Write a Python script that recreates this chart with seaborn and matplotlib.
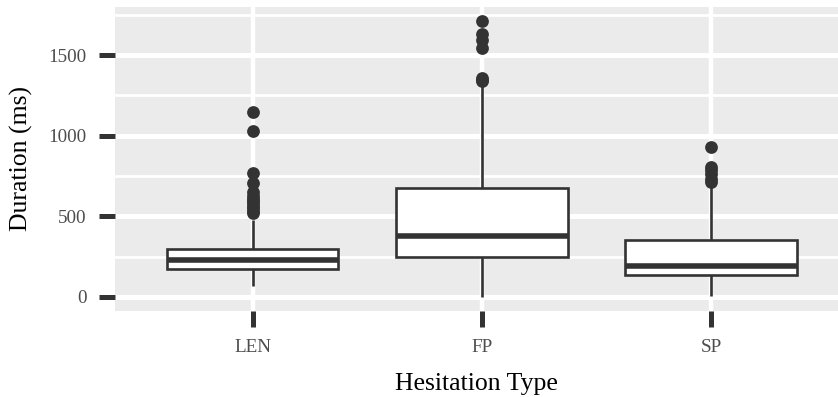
import matplotlib
matplotlib.use("Agg")
import matplotlib.pyplot as plt
import seaborn as sns
import pandas as pd

categories = ["LEN", "FP", "SP"]
whisker_low = [68, 0, 8]
q1 = [175, 246, 136]
median = [227, 380, 192]
q3 = [296, 673, 353]
whisker_high = [478, 1310, 680]
outliers_len = [520, 535, 550, 565, 580, 595, 610, 625, 650, 705, 770, 1029, 1148]
outliers_fp = [1340, 1348, 1356, 1541, 1593, 1628, 1713]
outliers_sp = [715, 730, 760, 790, 805, 927]
y_ticks = [0, 500, 1000, 1500]
y_minor = [250, 750, 1250, 1750]

rows = []
for i, c in enumerate(categories):
    for v in (whisker_low[i], q1[i], median[i], q3[i], whisker_high[i]):
        rows.append({"type": c, "dur": v})
box_df = pd.DataFrame(rows)
out_df = pd.DataFrame(
    [{"type": "LEN", "dur": v} for v in outliers_len]
    + [{"type": "FP", "dur": v} for v in outliers_fp]
    + [{"type": "SP", "dur": v} for v in outliers_sp]
)

sns.set_style("white")
plt.rcParams["font.family"] = ["Liberation Serif", "DejaVu Serif"]

fig = plt.figure(figsize=(8.38, 3.97), dpi=100)
ax = fig.add_axes([115 / 838, 1 - 310.7 / 397, 1 - 115 / 838, (310.7 - 7.3) / 397])
ax.set_facecolor("#EBEBEB")

dark = "#333333"
sns.boxplot(data=box_df, x="type", y="dur", order=categories, whis=(0, 100),
            width=0.75, color="white", linecolor=dark, linewidth=1.9,
            showcaps=False, fliersize=0, ax=ax,
            medianprops={"linewidth": 4.0, "color": dark},
            boxprops={"facecolor": "white", "edgecolor": dark},
            zorder=3)
sns.stripplot(data=out_df, x="type", y="dur", order=categories, jitter=False,
              color=dark, size=9.2, linewidth=0, ax=ax, zorder=4)

ax.set_xlim(-0.6, (838 - 252.3) / 229.3)
ax.set_ylim(-85, 1796)
ax.set_yticks(y_ticks)
ax.set_yticks(y_minor, minor=True)
ax.set_axisbelow(True)
ax.grid(axis="y", which="major", color="white", linewidth=3.6)
ax.grid(axis="y", which="minor", color="white", linewidth=2.0)
ax.grid(axis="x", which="major", color="white", linewidth=3.2)
for s in ax.spines.values():
    s.set_visible(False)
ax.tick_params(which="major", bottom=True, left=True, direction="out",
               length=11.5, width=3.6, color=dark,
               labelsize=13.8, labelcolor="#4D4D4D", pad=9)
ax.tick_params(which="minor", bottom=False, left=False, length=0)
ax.set_xlabel("Hesitation Type", fontsize=18.5, color="black", labelpad=12)
ax.set_ylabel("Duration (ms)", fontsize=18.5, color="black", labelpad=11)

fig.savefig("out.png", dpi=100)
